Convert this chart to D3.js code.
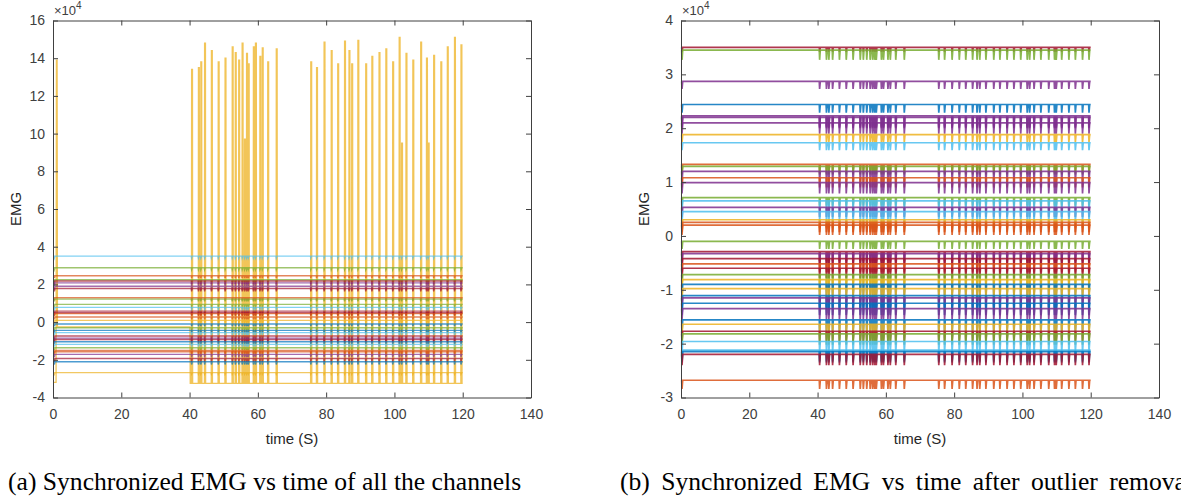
<!DOCTYPE html>
<html>
<head>
<meta charset="utf-8">
<script src="https://cdn.jsdelivr.net/npm/d3@7"></script>
<style>
  body { margin: 0; background: #fff; }
  svg { display: block; }
</style>
</head>
<body>
<div id="fig"></div>
<script>
// all EMG values below are in units of 1e4

var eventTimes = [40.6, 42.6, 43.3, 44.4, 46.4, 48.4, 50.4, 52.5, 53.4, 54.4,
  55.4, 56.1, 56.7, 57.2, 58.7, 59.3, 60.6, 61.3, 62.9, 65.4,
  75.5, 77.2, 79.4, 81.5, 83.4, 85.4, 86.7, 87.5, 89.3, 91.6,
  93.4, 95.5, 97.5, 99.5, 101.4, 102.1, 103.4, 105.4, 107.7, 109.4,
  109.9, 111.5, 113.6, 115.5, 117.6, 119.5];

// (a) outlier channel: peak of each pulse
var rawPeaks = [13.4, 13.5, 13.8, 14.8, 14.4, 13.8, 14.0, 14.6, 14.3, 13.9,
  14.8, 9.7, 14.25, 13.7, 14.6, 14.8, 14.1, 14.55, 13.8, 14.5,
  13.8, 13.5, 14.85, 14.4, 13.7, 14.9, 14.4, 13.7, 14.95, 13.7,
  14.1, 14.3, 14.5, 13.8, 15.1, 9.5, 14.25, 13.9, 14.85, 14.0,
  9.5, 14.15, 13.8, 14.6, 15.1, 14.7];
var rawFirstPulse = [1.0, 13.9];          // time, peak
var rawOutlierLow = [-3.2, -0.25, -3.25]; // start, quiet phase, pulse phase

// (a) other channels: baseline and spike depth
var rawLevels = [3.5, 2.88, 2.46, 2.25, 2.18, 2.08, 1.9, 1.78, 1.29, 1.22,
  0.94, 0.78, 0.58, 0.5, 0.45, 0.27, 0.09, -0.1, -0.3, -0.44,
  -0.56, -0.74, -0.85, -0.92, -1.04, -1.18, -1.36, -1.5, -1.57, -1.71,
  -1.93, -2.1, -2.68];
var rawDips = [0.1, 0.1, 0.12, 0.12, 0.15, 0.15, 0.18, 0.15, 0.12, 0.12,
  0.1, 0.1, 0.15, 0.15, 0.12, 0.12, 0.1, 0.12, 0.1, 0.12,
  0.12, 0.15, 0.15, 0.15, 0.12, 0.12, 0.12, 0.15, 0.15, 0.15,
  0.18, 0.15, 0.08];

// (b) channels after outlier removal: baseline and spike depth
var cleanLevels = [3.5, 3.45, 2.87, 2.44, 2.23, 2.2, 2.1, 1.88, 1.73, 1.33,
  1.29, 1.2, 1.08, 0.99, 0.71, 0.65, 0.53, 0.45, 0.3, 0.25,
  0.2, -0.1, -0.29, -0.33, -0.42, -0.52, -0.6, -0.72, -0.81, -0.9,
  -0.98, -1.11, -1.15, -1.25, -1.35, -1.56, -1.64, -1.77, -1.82, -1.96,
  -2.12, -2.15, -2.2, -2.68];
var cleanDips = [0.08, 0.18, 0.14, 0.15, 0.2, 0.2, 0.2, 0.14, 0.14, 0.15,
  0.15, 0.2, 0.18, 0.2, 0.15, 0.18, 0.18, 0.18, 0.15, 0.18,
  0.18, 0.14, 0.18, 0.18, 0.2, 0.16, 0.18, 0.18, 0.16, 0.2,
  0.18, 0.22, 0.2, 0.22, 0.2, 0.22, 0.18, 0.18, 0.2, 0.2,
  0.2, 0.2, 0.2, 0.16];
var cleanFirstEvent = 0.3;

var xTicks = [0, 20, 40, 60, 80, 100, 120, 140];
var rawTicks = [-4, -2, 0, 2, 4, 6, 8, 10, 12, 14, 16];
var cleanTicks = [-3, -2, -1, 0, 1, 2, 3, 4];
var captions = ["(a) Synchronized EMG vs time of all the channels",
  "(b) Synchronized EMG vs time after outlier removal"];

// MATLAB default colour order and the colour slot of each line
var matlabColors = ["#0072BD", "#D95319", "#EDB120", "#7E2F8E", "#77AC30", "#4DBEEE", "#A2142F"];
var rawColorIdx = [5, 4, 1, 4, 6, 3, 3, 6, 1, 4, 4, 5, 6, 6, 1, 1, 2, 0, 4, 0,
  5, 6, 3, 6, 0, 5, 4, 1, 1, 3, 6, 0, 2];
var cleanColorIdx = [6, 4, 3, 0, 3, 3, 3, 2, 5, 1, 4, 3, 1, 3, 4, 5, 3, 5, 2, 1,
  1, 4, 6, 3, 6, 1, 6, 4, 2, 0, 2, 0, 3, 0, 3, 0, 2, 6, 4, 5,
  5, 0, 6, 1];

var width = 1181, height = 497;
var panelTop = 20.5, panelBottom = 397.5;
var panels = [
  { left: 53, right: 531, ticks: rawTicks, domain: [-4, 16] },
  { left: 681, right: 1159, ticks: cleanTicks, domain: [-3, 4] }
];

var svg = d3.select("#fig").append("svg")
  .attr("width", width)
  .attr("height", height);

function channelPoints(base, dip, times) {
  var pts = [[0, base]];
  times.forEach(function (t) {
    pts.push([t - 0.1, base], [t, base - dip], [t + 0.2, base]);
  });
  pts.push([120, base]);
  return pts;
}

function outlierPoints() {
  var low = rawOutlierLow;
  var pts = [[0, low[0]], [rawFirstPulse[0] - 0.1, low[0]],
    [rawFirstPulse[0], rawFirstPulse[1]], [rawFirstPulse[0] + 0.2, rawFirstPulse[1]],
    [rawFirstPulse[0] + 0.3, low[1]], [eventTimes[0] - 0.5, low[1]], [eventTimes[0] - 0.4, low[2]]];
  eventTimes.forEach(function (t, i) {
    pts.push([t - 0.05, low[2]], [t, rawPeaks[i]], [t + 0.25, rawPeaks[i]], [t + 0.3, low[2]]);
  });
  pts.push([120, low[2]]);
  return pts;
}

function drawPanel(p, idx) {
  var x = d3.scaleLinear().domain([0, 140]).range([p.left, p.right]);
  var y = d3.scaleLinear().domain(p.domain).range([panelBottom, panelTop]);
  var g = svg.append("g");
  var line = d3.line()
    .x(function (d) { return x(d[0]); })
    .y(function (d) { return y(d[1]); });

  var plot = g.append("g");
  if (idx === 0) {
    plot.append("path")
      .attr("d", line(outlierPoints()))
      .attr("fill", "none")
      .attr("stroke", matlabColors[2])
      .attr("stroke-opacity", 0.75)
      .attr("stroke-width", 1.3);
    plot.selectAll(".ch")
      .data(rawLevels)
      .enter().append("path")
      .attr("class", "ch")
      .attr("d", function (d, i) { return line(channelPoints(d, rawDips[i], [0.4].concat(eventTimes))); })
      .attr("fill", "none")
      .attr("stroke", function (d, i) { return matlabColors[rawColorIdx[i]]; })
      .attr("stroke-opacity", 0.7)
      .attr("stroke-width", 1.4);
  } else {
    plot.selectAll(".ch")
      .data(cleanLevels)
      .enter().append("path")
      .attr("class", "ch")
      .attr("d", function (d, i) { return line(channelPoints(d, cleanDips[i], [cleanFirstEvent].concat(eventTimes))); })
      .attr("fill", "none")
      .attr("stroke", function (d, i) { return matlabColors[cleanColorIdx[i]]; })
      .attr("stroke-opacity", 0.85)
      .attr("stroke-width", 1.7);
  }

  var axisColor = "#404040";
  var fmt = function (d) { return String(d); };

  g.append("g")
    .attr("transform", "translate(0," + panelBottom + ")")
    .call(d3.axisBottom(x).tickValues(xTicks).tickFormat(fmt).tickSizeInner(-5).tickSizeOuter(0).tickPadding(12));
  g.append("g")
    .attr("transform", "translate(0," + panelTop + ")")
    .call(d3.axisTop(x).tickValues(xTicks).tickFormat("").tickSizeInner(-5).tickSizeOuter(0));
  g.append("g")
    .attr("transform", "translate(" + p.left + ",0)")
    .call(d3.axisLeft(y).tickValues(p.ticks).tickFormat(fmt).tickSizeInner(-5).tickSizeOuter(0).tickPadding(8));
  g.append("g")
    .attr("transform", "translate(" + p.right + ",0)")
    .call(d3.axisRight(y).tickValues(p.ticks).tickFormat("").tickSizeInner(-5).tickSizeOuter(0));

  g.selectAll(".domain").attr("stroke", axisColor);
  g.selectAll(".tick line").attr("stroke", axisColor);
  g.selectAll(".tick text")
    .attr("fill", axisColor)
    .attr("font-family", "Liberation Sans, Arial, sans-serif")
    .attr("font-size", 14);

  // exponent label
  var ex = g.append("text")
    .attr("x", p.left + 1)
    .attr("y", 15)
    .attr("fill", axisColor)
    .attr("font-family", "Liberation Sans, Arial, sans-serif")
    .attr("font-size", 13);
  ex.append("tspan").text("\u00d710");
  ex.append("tspan").attr("dy", -6).attr("font-size", 10).text("4");

  g.append("text")
    .attr("x", (p.left + p.right) / 2)
    .attr("y", 444)
    .attr("text-anchor", "middle")
    .attr("fill", "#262626")
    .attr("font-family", "Liberation Sans, Arial, sans-serif")
    .attr("font-size", 15)
    .text("time (S)");

  g.append("text")
    .attr("transform", "translate(" + (p.left - 32) + "," + ((panelTop + panelBottom) / 2) + ") rotate(-90)")
    .attr("text-anchor", "middle")
    .attr("fill", "#262626")
    .attr("font-family", "Liberation Sans, Arial, sans-serif")
    .attr("font-size", 15)
    .text("EMG");
}

panels.forEach(drawPanel);

// caption (b) wraps in the source, so its first line is justified
svg.selectAll(".caption")
  .data(captions)
  .enter().append("text")
  .attr("class", "caption")
  .attr("x", function (d, i) { return i === 0 ? 8 : 620; })
  .attr("y", 490)
  .attr("fill", "#000")
  .attr("font-family", "Liberation Serif, Times New Roman, serif")
  .attr("font-size", 25.6)
  .attr("word-spacing", function (d, i) { return i === 0 ? 0 : 5; })
  .text(function (d) { return d; });
</script>
</body>
</html>
